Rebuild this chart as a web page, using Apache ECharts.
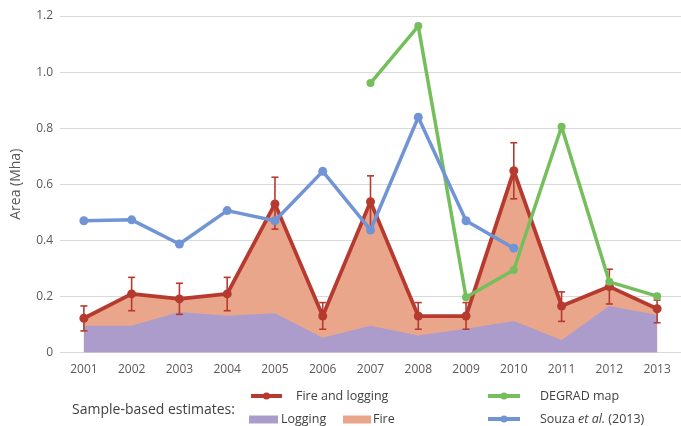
<!DOCTYPE html>
<html>
<head>
<meta charset="utf-8">
<script src="https://cdn.jsdelivr.net/npm/echarts@6/dist/echarts.min.js"></script>
<style>
  html, body { margin: 0; padding: 0; background: #fff; }
  #chart { width: 681px; height: 426px; }
</style>
</head>
<body>
<div id="chart"></div>
<script>
// Years on the category axis
const years = ['2001','2002','2003','2004','2005','2006','2007','2008','2009','2010','2011','2012','2013'];

// Sample-based estimate: total area (fire and logging), Mha
const fireAndLogging = [0.122, 0.209, 0.191, 0.209, 0.530, 0.130, 0.538, 0.130, 0.130, 0.648, 0.166, 0.235, 0.156];
// Lower / upper bounds of the sample-based estimate
const errLow  = [0.077, 0.149, 0.136, 0.149, 0.440, 0.083, 0.440, 0.083, 0.083, 0.548, 0.111, 0.173, 0.106];
const errHigh = [0.166, 0.268, 0.247, 0.268, 0.625, 0.178, 0.630, 0.178, 0.178, 0.748, 0.216, 0.297, 0.187];
// Logging-only component of the estimate
const logging = [0.095, 0.095, 0.144, 0.131, 0.140, 0.053, 0.095, 0.061, 0.085, 0.112, 0.045, 0.166, 0.134];
// DEGRAD map (2007 onwards)
const degrad = ['-', '-', '-', '-', '-', '-', 0.961, 1.164, 0.197, 0.294, 0.805, 0.252, 0.201];
// Souza et al. (2013), through 2010
const souza = [0.470, 0.473, 0.387, 0.506, 0.470, 0.646, 0.437, 0.839, 0.470, 0.372, '-', '-', '-'];

// Y-axis scale
const yMin = 0, yMax = 1.2, yStep = 0.2;

const RED = '#b63a2f', BLUE = '#7094d6', GREEN = '#74bf5c';
const FIRE_FILL = '#e9a68b', LOG_FILL = '#ab9ccb';
const FONT = '"Open Sans", sans-serif';
const TXT = '#404040';

const chart = echarts.init(document.getElementById('chart'), null, { renderer: 'canvas' });

const errData = years.map((y, i) => [i, errLow[i], errHigh[i]]);

function legendBox(name, left, top, icon, w, h, extra) {
  return Object.assign({
    data: [icon ? { name: name, icon: icon } : name],
    left: left, top: top, padding: 0,
    itemWidth: w, itemHeight: h,
    selectedMode: false,
    lineStyle: { width: 4 },
    textStyle: { fontFamily: FONT, fontSize: 12.5, color: TXT }
  }, extra || {});
}

const option = {
  animation: false,
  backgroundColor: '#fff',
  grid: { left: 60, top: 16, width: 624, height: 336.5, containLabel: false },
  xAxis: {
    type: 'category',
    data: years,
    boundaryGap: true,
    axisLine: { show: false },
    axisTick: { show: false },
    axisLabel: { fontFamily: FONT, fontSize: 12, color: '#595959', margin: 11 }
  },
  yAxis: {
    type: 'value',
    min: yMin, max: yMax, interval: yStep,
    name: 'Area (Mha)',
    nameLocation: 'middle',
    nameGap: 37,
    nameTextStyle: { fontFamily: FONT, fontSize: 14, color: '#595959' },
    axisLine: { show: false },
    axisTick: { show: false },
    splitLine: { lineStyle: { color: '#d9d9d9', width: 1 } },
    axisLabel: {
      fontFamily: FONT, fontSize: 12, color: '#595959', margin: 7,
      formatter: v => (v === 0 ? '0' : v.toFixed(1))
    }
  },
  legend: [
    legendBox('Fire and logging', 249, 389.5, null, 31, 9, { textStyle: { fontFamily: FONT, fontSize: 12.5, color: TXT, padding: [0, 0, 0, 9] } }),
    legendBox('DEGRAD map', 486, 389.5, null, 32, 9, { textStyle: { fontFamily: FONT, fontSize: 12.5, color: TXT, padding: [0, 0, 0, 15] } }),
    legendBox('Logging', 249, 413, 'rect', 29, 8, { textStyle: { fontFamily: FONT, fontSize: 12.5, color: TXT, padding: [0, 0, 0, -2] } }),
    legendBox('Fire', 343, 413, 'rect', 28, 8, { textStyle: { fontFamily: FONT, fontSize: 12.5, color: TXT, padding: [0, 0, 0, -3] } }),
    legendBox('Souza et al. (2013)', 486, 412.5, null, 32, 9, {
      formatter: () => 'Souza {i|et al.} (2013)',
      textStyle: {
        fontFamily: FONT, fontSize: 12.5, color: TXT, padding: [0, 0, 0, 15],
        rich: { i: { fontFamily: FONT, fontSize: 12.5, color: TXT, fontStyle: 'italic' } }
      }
    })
  ],
  graphic: [{
    type: 'text',
    left: 72, top: 403,
    style: { text: 'Sample-based estimates:', font: '14px ' + FONT, fill: TXT }
  }],
  series: [
    {
      name: 'Fire', type: 'line', data: fireAndLogging,
      symbol: 'none', z: 1,
      itemStyle: { color: FIRE_FILL },
      lineStyle: { width: 0, color: FIRE_FILL },
      areaStyle: { color: FIRE_FILL, opacity: 1 }
    },
    {
      name: 'Logging', type: 'line', data: logging,
      symbol: 'none', z: 2,
      itemStyle: { color: LOG_FILL },
      lineStyle: { width: 0, color: LOG_FILL },
      areaStyle: { color: LOG_FILL, opacity: 1 }
    },
    {
      name: 'Fire and logging', type: 'line', data: fireAndLogging,
      symbol: 'circle', symbolSize: 9, z: 3,
      itemStyle: { color: RED },
      lineStyle: { width: 3.8, color: RED }
    },
    {
      name: 'errors', type: 'custom', data: errData, z: 4,
      encode: { x: 0, y: [1, 2] },
      renderItem: function (params, api) {
        const lo = api.coord([api.value(0), api.value(1)]);
        const hi = api.coord([api.value(0), api.value(2)]);
        const cap = 3.5;
        const st = { stroke: RED, lineWidth: 1.6 };
        return {
          type: 'group',
          children: [
            { type: 'line', shape: { x1: lo[0], y1: lo[1], x2: hi[0], y2: hi[1] }, style: st },
            { type: 'line', shape: { x1: lo[0] - cap, y1: lo[1], x2: lo[0] + cap, y2: lo[1] }, style: st },
            { type: 'line', shape: { x1: hi[0] - cap, y1: hi[1], x2: hi[0] + cap, y2: hi[1] }, style: st }
          ]
        };
      }
    },
    {
      name: 'DEGRAD map', type: 'line', data: degrad,
      symbol: 'circle', symbolSize: 8, z: 5,
      itemStyle: { color: GREEN },
      lineStyle: { width: 3.5, color: GREEN }
    },
    {
      name: 'Souza et al. (2013)', type: 'line', data: souza,
      symbol: 'circle', symbolSize: 9, z: 6,
      itemStyle: { color: BLUE },
      lineStyle: { width: 3.5, color: BLUE }
    }
  ]
};

chart.setOption(option);
</script>
</body>
</html>
